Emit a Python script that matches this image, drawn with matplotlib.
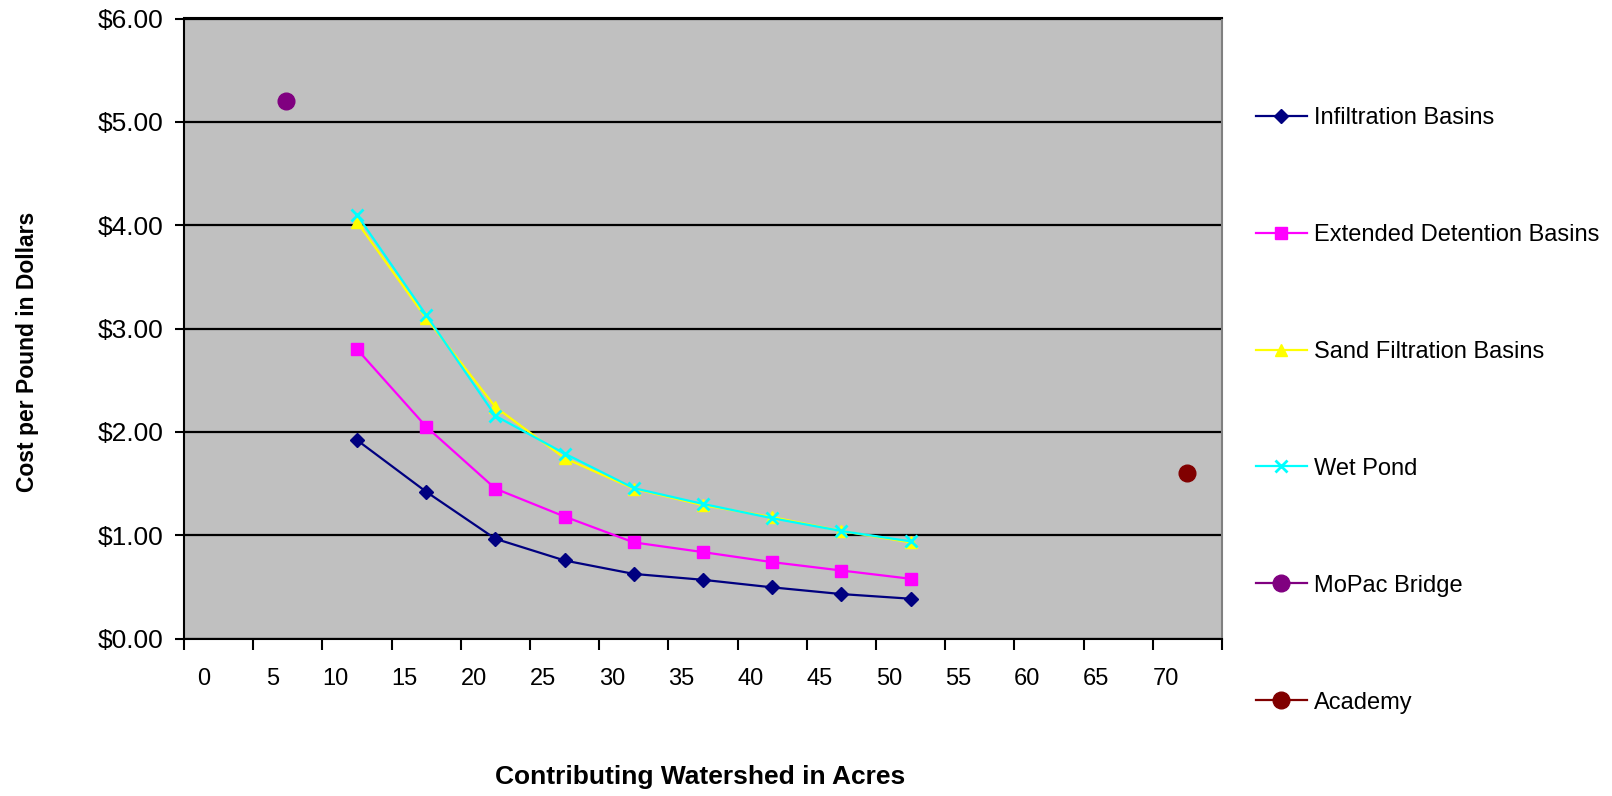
import matplotlib
matplotlib.use("Agg")
import matplotlib.pyplot as plt
import matplotlib.transforms as mtransforms

plt.rcParams['font.family'] = ['Liberation Sans', 'DejaVu Sans']

# Data
acres = [12.5, 17.5, 22.5, 27.5, 32.5, 37.5, 42.5, 47.5, 52.5]
infiltration = [1.92, 1.42, 0.965, 0.755, 0.625, 0.568, 0.495, 0.43, 0.385]
extended = [2.80, 2.05, 1.45, 1.18, 0.93, 0.836, 0.739, 0.658, 0.578]
sand = [4.03, 3.10, 2.24, 1.745, 1.45, 1.29, 1.175, 1.04, 0.93]
wet_pond = [4.10, 3.13, 2.155, 1.79, 1.455, 1.302, 1.164, 1.04, 0.94]
mopac_x, mopac_y = [7.4], [5.20]
academy_x, academy_y = [72.5], [1.60]

x_ticks = [0, 5, 10, 15, 20, 25, 30, 35, 40, 45, 50, 55, 60, 65, 70, 75]
x_labels = ['0', '5', '10', '15', '20', '25', '30', '35', '40', '45', '50', '55', '60', '65', '70', '']
y_ticks = [0, 1, 2, 3, 4, 5, 6]
y_labels = ['$0.00', '$1.00', '$2.00', '$3.00', '$4.00', '$5.00', '$6.00']

fig = plt.figure(figsize=(16.12, 7.96), dpi=100)
ax = fig.add_axes([184 / 1612, 1 - 638.5 / 796, 1038 / 1612, 620 / 796])
ax.set_facecolor('#C0C0C0')

# Series
ax.plot(acres, infiltration, color='#000080', marker='D', markersize=7, linewidth=1.6,
        label='Infiltration Basins', zorder=4)
ax.plot(acres, extended, color='#FF00FF', marker='s', markersize=8.5, linewidth=1.6,
        label='Extended Detention Basins', zorder=4)
ax.plot(acres, sand, color='#FFFF00', marker='^', markersize=9, linewidth=1.6,
        label='Sand Filtration Basins', zorder=4)
ax.plot(acres, wet_pond, color='#00FFFF', marker='x', markersize=9, markeredgewidth=2,
        linewidth=1.6, label='Wet Pond', zorder=5)
ax.plot(mopac_x, mopac_y, color='#800080', marker='o', markersize=12, linewidth=1.6,
        label='MoPac Bridge', zorder=5)
ax.plot(academy_x, academy_y, color='#800000', marker='o', markersize=12, linewidth=1.6,
        label='Academy', zorder=5)

# Axes
ax.set_xlim(0, 75)
ax.set_ylim(0, 6)
ax.set_yticks(y_ticks)
ax.set_yticklabels(y_labels, fontsize=19)
ax.set_xticks(x_ticks)
ax.set_xticklabels(x_labels, fontsize=17)
ax.yaxis.grid(True, color='black', linewidth=1.6)
ax.set_axisbelow(True)
ax.tick_params(axis='y', direction='out', length=6.5, width=1.5, pad=8.5)
ax.tick_params(axis='x', direction='out', length=8, width=1.5, pad=13)

# Excel-style x labels sit right-aligned a bit past each tick
shift = mtransforms.ScaledTranslation(0.26, 0, fig.dpi_scale_trans)
for lbl in ax.get_xticklabels():
    lbl.set_horizontalalignment('right')
    lbl.set_transform(lbl.get_transform() + shift)

for side in ['left', 'bottom', 'top']:
    ax.spines[side].set_color('black')
    ax.spines[side].set_linewidth(1.5)
ax.spines['right'].set_color('#808080')
ax.spines['right'].set_linewidth(1.5)

fig.text(28 / 1612, 1 - 352 / 796, 'Cost per Pound in Dollars', rotation=90,
         ha='center', va='center', fontsize=16.5, fontweight='bold')
fig.text(700 / 1612, 1 - 777 / 796, 'Contributing Watershed in Acres',
         ha='center', va='center', fontsize=19, fontweight='bold')

fig.legend(loc='upper left', bbox_to_anchor=(1256 / 1612, 1 - 107 / 796),
           frameon=False, fontsize=17, handlelength=2.15, handletextpad=0.3,
           labelspacing=4.02, borderpad=0, borderaxespad=0)

plt.savefig('out.png', dpi=100)
